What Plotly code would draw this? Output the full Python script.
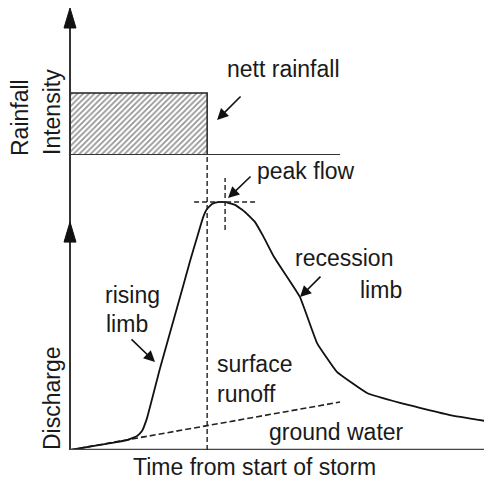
import plotly.graph_objects as go

# window is 492x479; the page body adds an 8px margin, so the figure is drawn 8px in
WIN_W, WIN_H = 492, 479
OFF = 8
W, H = WIN_W - OFF, WIN_H - OFF

# ---------------- data ----------------
# storm hydrograph: time (h) and discharge (arbitrary units)
time_hydro = [0.0, 1.42, 2.70, 3.18, 3.41, 3.65, 4.27, 5.07, 5.69, 6.07, 6.30, 6.49,
              6.73, 7.01, 7.35, 7.82, 8.29, 8.77, 9.15, 9.67, 10.90, 11.71, 12.65,
              14.08, 15.64, 18.01, 20.0]
discharge = [0.0, 0.23, 0.45, 0.64, 0.86, 1.45, 3.73, 6.45, 8.59, 9.82, 10.55, 10.95,
             11.18, 11.27, 11.27, 11.14, 10.82, 10.36, 9.73, 8.77, 6.95, 4.86, 3.55,
             2.59, 2.14, 1.59, 1.27]
# ground water (base flow) separation line
time_base = [0.0, 12.8]
discharge_base = [0.0, 2.18]
# nett rainfall block
rain_start, rain_end = 0.0, 6.5
rain_intensity = 10.0
# peak flow
peak_time, peak_q = 7.35, 11.27

# ---------------- axes geometry (window pixels -> domains) ----------------
T_MAX = 20.0
PX_T = 422 / T_MAX        # pixels per hour (t=0 at window x=70, t=20 at x=492)
PX_Q = 22.0               # pixels per discharge unit
PX_R = 6.2                # pixels per rainfall unit
Q_TOP = 295 / PX_Q        # discharge axis top (window y=155)
R_TOP = 147 / PX_R        # rainfall axis top (window y=8)
Q_ARROW = 10.36           # tip of discharge axis arrow
T_MIN = -20 / PX_T        # a little room left of the time origin (x=50)


def fy(yp):
    """window pixel y -> paper fraction"""
    return 1 - (yp - OFF) / H


def fx(xp):
    return (xp - OFF) / W


x_dom = [fx(50), 1.0]
q_dom = [fy(450), fy(155)]
r_dom = [fy(155), 1.0]

FONT = "Liberation Sans, Arial, sans-serif"
TXT = "#1a1a1a"
AX = "#333333"

fig = go.Figure()

# hatched rainfall bar
fig.add_trace(go.Bar(
    x=[(rain_start + rain_end) / 2], y=[rain_intensity], width=[rain_end - rain_start],
    base=[0], xaxis="x", yaxis="y2",
    marker=dict(color="white", line=dict(color="#222", width=1.5),
                pattern=dict(shape="/", size=4, solidity=0.4, fgcolor="#222", bgcolor="white")),
    showlegend=False, hoverinfo="skip"))

# base flow dashed line
fig.add_trace(go.Scatter(x=time_base, y=discharge_base, mode="lines", xaxis="x", yaxis="y",
                         line=dict(color="#222", width=1.6, dash="6px,3px"),
                         showlegend=False, hoverinfo="skip"))
# hydrograph
fig.add_trace(go.Scatter(x=time_hydro, y=discharge, mode="lines", xaxis="x", yaxis="y",
                         line=dict(color="#111", width=1.8, shape="spline", smoothing=0.3),
                         showlegend=False, hoverinfo="skip"))

shapes = []
# vertical axis lines
shapes.append(dict(type="line", xref="x", yref="y", x0=0, x1=0, y0=0, y1=Q_TOP,
                   line=dict(color=AX, width=2)))
shapes.append(dict(type="line", xref="x", yref="y2", x0=0, x1=0, y0=0, y1=R_TOP - 1,
                   line=dict(color=AX, width=2)))
# baselines
shapes.append(dict(type="line", xref="x", yref="y", x0=0, x1=T_MAX, y0=0, y1=0,
                   line=dict(color="#444", width=2.5)))
shapes.append(dict(type="line", xref="x", yref="y2", x0=0, x1=12.8, y0=0, y1=0,
                   line=dict(color="#333", width=2)))
# end of rainfall dashed line
shapes.append(dict(type="line", xref="x", yref="y", x0=rain_end, x1=rain_end, y0=0, y1=Q_TOP,
                   line=dict(color="#222", width=1.4, dash="5px,3px")))
# peak crosshair
shapes.append(dict(type="line", xref="x", yref="y", x0=peak_time - 1.47, x1=peak_time + 1.47,
                   y0=peak_q, y1=peak_q, line=dict(color="#222", width=1.4, dash="5px,3px")))
shapes.append(dict(type="line", xref="x", yref="y", x0=peak_time, x1=peak_time,
                   y0=peak_q - 1.27, y1=peak_q + 1.09, line=dict(color="#222", width=1.4, dash="5px,3px")))


# narrow axis arrowheads: 12 px wide, 20 px tall, tip at the axis end
def arrowhead_path(tip, px_per_unit):
    hw = 6 / PX_T
    hh = 20 / px_per_unit
    return f"M0,{tip} L{hw},{tip - hh} L{-hw},{tip - hh} Z"


shapes.append(dict(type="path", xref="x", yref="y2", path=arrowhead_path(R_TOP, PX_R),
                   fillcolor="#111", line=dict(color="#111", width=1)))
shapes.append(dict(type="path", xref="x", yref="y", path=arrowhead_path(Q_ARROW, PX_Q),
                   fillcolor="#111", line=dict(color="#111", width=1)))

annotations = []


def label(text, xp, yp, xanchor="left", angle=0):
    annotations.append(dict(text=text, x=fx(xp), y=fy(yp), xref="paper", yref="paper",
                            xanchor=xanchor, yanchor="middle", showarrow=False,
                            textangle=angle, font=dict(family=FONT, size=23, color=TXT)))


label("Rainfall", 20, 118, "center", -90)
label("Intensity", 52, 112, "center", -90)
label("Discharge", 52, 398, "center", -90)
label("nett rainfall", 225, 69)
label("peak flow", 255, 171)
label("recession", 293, 258)
label("limb", 358, 290)
label("rising", 103, 295)
label("limb", 104, 324)
label("surface", 215, 364)
label("runoff", 215, 394)
label("ground water", 336, 432, "center")
label("Time from start of storm", 254, 467, "center")


def arrow(xv, yv, yref, ax, ay):
    annotations.append(dict(text="", x=xv, y=yv, xref="x", yref=yref, ax=ax, ay=ay,
                            showarrow=True, arrowhead=2, arrowsize=1.4, arrowwidth=1.6,
                            arrowcolor="#111"))


arrow(6.97, 5.65, "y2", 25, -25)     # nett rainfall
arrow(7.49, 11.45, "y", 24, -23)     # peak flow
arrow(4.03, 4.0, "y", -25, -24)      # rising limb
arrow(10.9, 6.95, "y", 22, -22)      # recession limb

ax_common = dict(visible=False, showgrid=False, zeroline=False, fixedrange=True)
fig.update_layout(
    width=W, height=H, autosize=False,
    margin=dict(l=0, r=0, t=0, b=0),
    paper_bgcolor="white", plot_bgcolor="white",
    xaxis=dict(domain=x_dom, range=[T_MIN, T_MAX], **ax_common),
    yaxis=dict(domain=q_dom, range=[0, Q_TOP], **ax_common),
    yaxis2=dict(domain=r_dom, range=[0, R_TOP], **ax_common),
    shapes=shapes, annotations=annotations, showlegend=False,
)

fig.write_html("out.html")
